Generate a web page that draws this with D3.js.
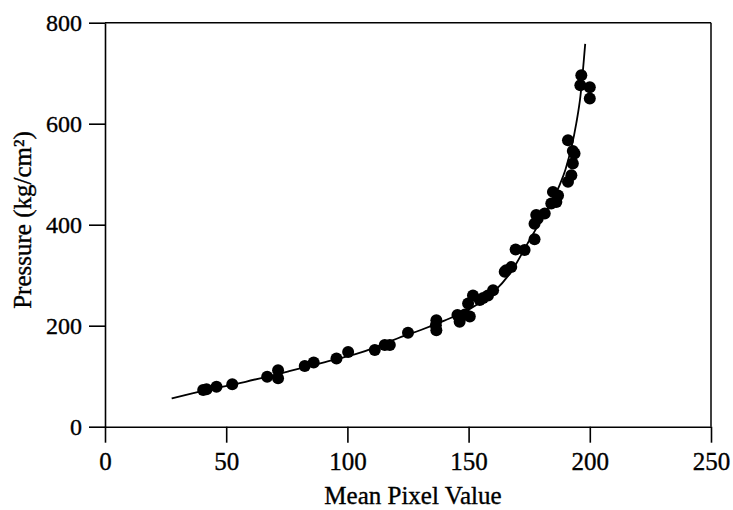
<!DOCTYPE html>
<html><head><meta charset="utf-8">
<script src="https://cdn.jsdelivr.net/npm/d3@7"></script>
<style>
html,body{margin:0;padding:0;background:#fff;}
svg{display:block;}
text{font-family:"Liberation Serif","Times New Roman",serif;fill:#000;stroke:#000;stroke-width:0.35px;}
</style></head>
<body>
<svg id="chart" width="733" height="510"></svg>
<script>
// Measured points: mean pixel value vs pressure (kg/cm²)
const pixelValues = [40.5,41.9,46.0,52.5,66.9,71.4,71.4,82.4,86.1,95.5,100.3,111.3,115.4,117.5,125.0,136.7,136.7,136.5,145.4,146.3,150.5,149.8,151.8,154.6,158.0,160.1,164.9,167.6,169.4,173.1,177.2,177.2,177.9,181.4,184.1,186.2,184.8,186.9,191.0,192.4,193.0,193.7,191.0,193.0,196.5,196.1,200.0,200.0,148.5,156.0,165.5,178.5];
const pressures   = [72.6,74,79,84,99,112,96,120,127,135,148,152,162,162,186,211,191,201,221,208,218,244,260,251,260,270,307,316,351,350,371,402,419,422,442,445,465,458,485,498,521,541,567,546,696,676,672,650,222,255,310,412];
// Fitted calibration curve
const curveX = [27.5,36,58,76,90,105,124,130,140,150,160,168,174,180,187.5,190,194.4,196.1,198.1];
const curveY = [56,66,89,110,127,146,181,191,210,232,265,310,360,410,478,510,600,653,758];
const xTicks = [0,50,100,150,200,250];
const yTicks = [0,200,400,600,800];

const svg = d3.select("#chart");
const x = d3.scaleLinear().domain([0,250]).range([105,711]);
const y = d3.scaleLinear().domain([0,800]).range([426.7,22.7]);

// frame top/right
svg.append("line").attr("x1",x(0)).attr("x2",x(250)).attr("y1",y(800)).attr("y2",y(800))
  .attr("stroke","#000").attr("stroke-width",1.5);
svg.append("line").attr("x1",x(250)).attr("x2",x(250)).attr("y1",y(800)).attr("y2",y(0))
  .attr("stroke","#000").attr("stroke-width",1.5);

const xa = svg.append("g").attr("transform",`translate(0,${y(0)})`)
  .call(d3.axisBottom(x).tickValues(xTicks).tickSize(16).tickSizeOuter(0).tickPadding(10).tickFormat(d3.format("d")));
const ya = svg.append("g").attr("transform",`translate(${x(0)},0)`)
  .call(d3.axisLeft(y).tickValues(yTicks).tickSize(16).tickSizeOuter(0).tickPadding(7).tickFormat(d3.format("d")));
[xa,ya].forEach(g=>{
  g.selectAll("path,line").attr("stroke","#000").attr("stroke-width",1.6);
  g.selectAll("text").style("font-family","'Liberation Serif',serif").attr("fill","#000");
});
xa.selectAll("text").style("font-size","25px");
ya.selectAll("text").style("font-size","24px").attr("dy","0.34em");

// curve
const line = d3.line().x(d=>x(d[0])).y(d=>y(d[1])).curve(d3.curveMonotoneX);
svg.append("path").datum(curveX.map((v,i)=>[v,curveY[i]]))
  .attr("d",line).attr("fill","none").attr("stroke","#000").attr("stroke-width",1.8);

// points
svg.append("g").selectAll("circle").data(pixelValues.map((v,i)=>[v,pressures[i]]))
  .join("circle").attr("cx",d=>x(d[0])).attr("cy",d=>y(d[1])).attr("r",6).attr("fill","#000");

// axis titles
svg.append("text").attr("x",413).attr("y",504).attr("text-anchor","middle")
  .style("font-size","25px").text("Mean Pixel Value");
svg.append("text").attr("transform","translate(31,220) rotate(-90)").attr("text-anchor","middle")
  .style("font-size","25px").text("Pressure (kg/cm²)");
</script>
</body></html>
